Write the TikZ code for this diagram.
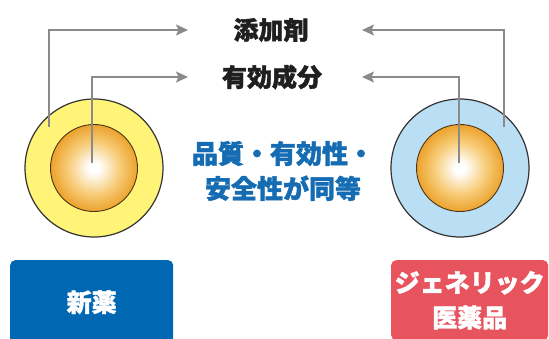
\documentclass[tikz,border=0pt]{standalone}
\usepackage{fontspec}
\setmainfont{Noto Sans CJK JP}[BoldFeatures={FakeBold=1.6}]
\usetikzlibrary{arrows.meta}
\definecolor{drugblue}{RGB}{0,104,178}
\definecolor{textblue}{RGB}{22,108,178}
\definecolor{genred}{RGB}{231,84,94}
\definecolor{ringyellow}{RGB}{255,243,120}
\definecolor{ringblue}{RGB}{186,223,244}
\definecolor{coreorange}{RGB}{236,162,44}
\definecolor{coremid}{RGB}{247,204,120}
\definecolor{linegray}{RGB}{138,138,138}
\pgfdeclareradialshading{coreshade}{\pgfpoint{0bp}{0bp}}{color(0bp)=(white); color(3bp)=(white); color(15bp)=(coremid); color(25bp)=(coreorange); color(50bp)=(coreorange)}
\begin{document}
\begin{tikzpicture}[x=1pt,y=-1pt,
  ring/.style={circle, draw=black!80, line width=1.2pt, minimum size=138pt, inner sep=0pt},
  core/.style={circle, draw=black!60!brown, line width=0.9pt, minimum size=87pt, inner sep=0pt, shade, shading=coreshade},
  part/.style={font=\bfseries\fontsize{25}{25}\selectfont, text=black!88, inner sep=0pt},
  tag/.style={rounded corners=5pt, text=white, align=center, inner sep=0pt, font=\bfseries\fontsize{25}{35}\selectfont},
  feed/.style={draw=linegray, line width=1.4pt, -{Stealth[length=12pt,width=11pt,inset=2.5pt]}}]
\clip (0,0) rectangle (549,338);

% 新薬
\node[ring, fill=ringyellow] (newring) at (94,168) {};
\node[core] (newcore) at (94,168) {};
\coordinate (newadd) at (49,127);
\coordinate (newact) at (92,163);
\node[tag, fill=drugblue, minimum width=163pt, minimum height=84pt, anchor=north west] (newtag) at (10,260) {新薬};

% ジェネリック医薬品
\node[ring, fill=ringblue] (genring) at (460,168) {};
\node[core] (gencore) at (460,168) {};
\coordinate (genadd) at (504,127);
\coordinate (genact) at (459,163);
\node[tag, fill=genred, minimum width=157pt, minimum height=80pt, anchor=north west] (gentag) at (391,260) {ジェネリック\\医薬品};

% labels
\node[part] (add) at (271,30) {添加剤};
\node[part] (act) at (272,77) {有効成分};
\node[font=\bfseries\fontsize{26}{35}\selectfont, text=textblue, align=center, inner sep=0pt] (same) at (283,171) {品質・有効性・\\安全性が同等};

% arrows
\coordinate (tipL) at (188,0);
\coordinate (tipR) at (362,0);
\draw[feed] (newadd) |- (add -| tipL);
\draw[feed] (newact) |- (act -| tipL);
\draw[feed] (genadd) |- (add -| tipR);
\draw[feed] (genact) |- (act -| tipR);
\end{tikzpicture}
\end{document}
